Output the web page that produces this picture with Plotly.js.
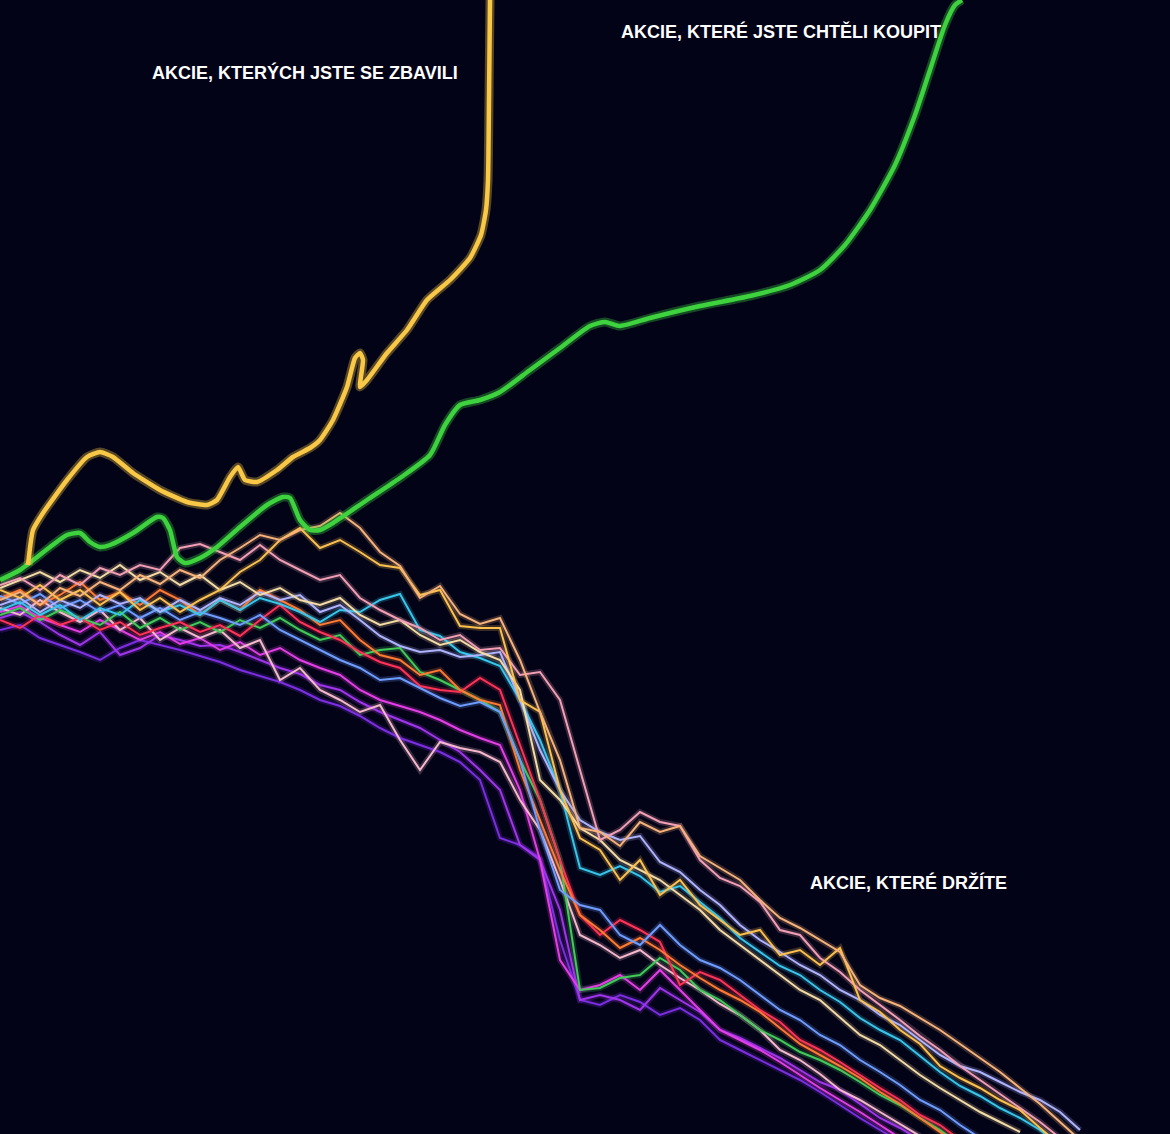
<!DOCTYPE html>
<html>
<head>
<meta charset="utf-8">
<script src="https://cdn.plot.ly/plotly-3.0.1.min.js"></script>
<style>html,body{margin:0;padding:0;background:#030318;}#chart{width:1170px;height:1134px;}</style>
</head>
<body>
<div id="chart"></div>
<script>
// Main curves (pixel-like coordinates)
const soldX = [28,33,43,67,87,100,113,133,160,187,207,217,230,238,245,257,277,293,310,320,333,347,355,360,363,360,367,387,407,427,450,470,481,486,488,489,490];
const soldY = [565,530,513,480,457,452,457,473,490,502,505,500,477,467,480,482,470,457,448,440,420,387,358,353,360,387,380,353,330,300,280,258,235,210,180,100,0];

const wantedX = [0,20,50,67,80,90,100,110,133,157,163,170,177,185,200,217,240,267,283,290,300,310,320,333,367,400,430,445,460,480,500,530,560,590,605,620,650,700,750,790,820,845,870,895,915,930,945,955,962];
const wantedY = [580,570,547,535,533,542,547,545,533,517,518,530,557,563,558,547,527,505,497,498,520,530,530,523,500,478,455,425,405,400,392,370,348,326,322,326,318,306,296,285,270,245,210,165,115,70,25,5,0];

// Shared x grid for the held stocks
const heldX = [0,20,40,60,80,100,120,140,160,180,200,220,240,260,280,300,320,340,360,380,400,420,440,460,480,500,520,540,560,580,600,620,640,660,680,700,720,740,760,780,800,820,840,860,880,900,920,940,960,980,1000,1020,1040,1060,1080];

const heldTan = [600,592,605,588,596,582,590,575,584,570,578,560,548,535,540,530,526,513,528,552,566,598,586,614,624,618,660,712,760,828,832,846,822,832,826,856,868,880,900,918,928,940,952,985,998,1006,1018,1030,1044,1058,1072,1088,1104,1122,1140];
const heldAmber = [590,598,585,600,590,605,592,610,598,612,600,590,572,560,540,528,548,540,552,565,568,595,590,626,628,628,700,712,790,838,850,880,860,895,880,905,920,935,930,955,950,965,948,1000,1012,1030,1044,1066,1078,1088,1100,1110,1128,1145,null];
const heldPink = [585,578,590,575,585,568,575,565,570,548,544,552,560,545,560,570,580,575,598,610,620,628,640,635,650,648,675,672,700,770,840,830,812,822,826,860,878,886,902,930,935,958,972,990,1005,1020,1036,1050,1066,1080,1094,1108,1122,1138,null];
const heldLavender = [605,598,612,600,608,595,604,598,612,600,610,598,605,592,600,595,612,605,620,636,646,652,650,657,655,652,700,750,790,820,832,840,836,862,872,890,905,925,940,952,965,975,990,1000,1015,1025,1040,1055,1066,1072,1082,1092,1100,1112,1130];
const heldCyan = [610,602,615,605,620,608,615,600,612,605,615,600,610,598,604,612,622,610,612,600,594,630,636,652,658,666,700,740,790,868,875,866,876,892,886,902,918,938,952,966,975,990,1002,1018,1030,1040,1056,1072,1086,1096,1108,1118,1130,1145,null];
const heldGreen = [615,608,620,610,618,625,612,628,618,630,622,632,620,628,618,630,640,635,655,650,648,672,680,690,700,712,760,800,860,990,988,978,975,958,970,990,1000,1015,1030,1040,1052,1060,1070,1082,1095,1105,1118,1130,1145,null,null,null,null,null,null];
const heldRed = [620,628,615,625,618,630,622,635,628,622,632,625,636,620,605,622,632,640,652,662,668,686,690,692,678,690,745,800,860,915,935,920,930,942,985,972,980,995,1010,1022,1040,1050,1062,1075,1088,1100,1115,1125,1140,null,null,null,null,null,null];
const heldOrange = [598,590,605,595,582,600,592,605,590,600,615,600,610,590,600,610,625,620,640,655,660,675,670,690,700,705,770,820,870,915,930,948,938,950,965,978,990,1000,1012,1028,1044,1055,1066,1078,1092,1104,1118,1132,1146,null,null,null,null,null,null];
const heldMagenta = [612,606,618,625,632,620,630,640,632,644,638,650,642,655,648,660,668,675,690,700,706,712,720,730,738,745,790,860,960,990,985,975,990,970,990,1010,1030,1040,1050,1062,1075,1088,1100,1112,1125,1138,null,null,null,null,null,null,null,null,null];
const heldPurple = [618,612,622,635,645,632,655,648,635,640,646,645,652,660,668,674,685,690,702,712,720,728,740,752,770,790,845,860,910,1000,995,1000,1010,988,1000,1012,1030,1038,1048,1058,1070,1082,1090,1104,1118,1128,1140,null,null,null,null,null,null,null,null];
const heldViolet = [630,625,638,645,652,660,648,640,645,650,656,662,670,676,682,690,700,706,716,728,738,745,752,762,780,838,845,858,940,1000,1005,995,1002,1015,1008,1020,1040,1050,1060,1070,1080,1092,1105,1118,1130,1142,null,null,null,null,null,null,null,null,null];
const heldRose = [608,615,600,612,622,610,630,618,640,628,638,630,648,640,680,668,690,700,712,705,740,770,742,748,752,762,800,830,880,935,945,958,950,965,978,990,1004,1015,1030,1050,1060,1074,1090,1100,1112,1124,1136,null,null,null,null,null,null,null,null];
const heldBlue = [596,604,594,608,600,612,605,618,608,620,612,618,625,615,630,640,650,660,668,680,678,688,698,706,702,712,760,830,890,905,910,935,945,925,945,960,968,980,995,1010,1020,1035,1045,1060,1072,1085,1100,1110,1125,1138,null,null,null,null,null];
const heldCream = [588,580,572,582,570,578,565,580,572,585,575,590,582,595,588,600,605,598,615,625,620,635,645,640,652,660,690,780,800,828,840,860,870,880,895,910,930,945,960,975,990,1000,1018,1035,1045,1060,1075,1088,1100,1112,1122,1132,null,null,null];

const labels = ["AKCIE, KTERÝCH JSTE SE ZBAVILI", "AKCIE, KTERÉ JSTE CHTĚLI KOUPIT", "AKCIE, KTERÉ DRŽÍTE"];
const labelX = [305, 781, 908];
const labelY = [72, 31, 882];

// styles
const heldSeries = [
  [heldViolet, '#7b2fe0'], [heldPurple, '#a035ec'], [heldMagenta, '#e43fe6'], [heldRose, '#f5b8cc'],
  [heldGreen, '#43c95a'], [heldRed, '#ff3358'], [heldOrange, '#ff7a33'], [heldBlue, '#6f9dff'],
  [heldCyan, '#38c6ea'], [heldLavender, '#b0b4ff'], [heldCream, '#f4dca6'], [heldPink, '#f29fb5'],
  [heldAmber, '#fbc04f'], [heldTan, '#f6b27a']
];

const traces = [];
heldSeries.forEach(([ys, c]) => {
  traces.push({x: heldX, y: ys, mode: 'lines', line: {color: c, width: 6}, opacity: 0.22, hoverinfo: 'skip'});
});
heldSeries.forEach(([ys, c]) => {
  traces.push({x: heldX, y: ys, mode: 'lines', line: {color: c, width: 2}, hoverinfo: 'skip'});
});
traces.push({x: wantedX, y: wantedY, mode: 'lines', line: {color: '#3cd03c', width: 9, shape: 'spline', smoothing: 0.6}, opacity: 0.35, hoverinfo: 'skip'});
traces.push({x: wantedX, y: wantedY, mode: 'lines', line: {color: '#3fd23f', width: 4.5, shape: 'spline', smoothing: 0.6}, hoverinfo: 'skip'});
traces.push({x: soldX, y: soldY, mode: 'lines', line: {color: '#f6c843', width: 9, shape: 'spline', smoothing: 0.5}, opacity: 0.35, hoverinfo: 'skip'});
traces.push({x: soldX, y: soldY, mode: 'lines', line: {color: '#f8c846', width: 4.5, shape: 'spline', smoothing: 0.5}, hoverinfo: 'skip'});

const annotations = labels.map((t, i) => ({
  x: labelX[i], y: labelY[i], xref: 'x', yref: 'y', text: '<b>' + t + '</b>', showarrow: false,
  xanchor: 'center', yanchor: 'middle',
  font: {family: 'Liberation Sans, Arial, sans-serif', size: 18, color: '#ffffff'}
}));

const layout = {
  width: 1170, height: 1134,
  margin: {l: 0, r: 0, t: 0, b: 0, pad: 0},
  paper_bgcolor: '#030318', plot_bgcolor: '#030318',
  showlegend: false,
  xaxis: {range: [0, 1170], visible: false, fixedrange: true},
  yaxis: {range: [1134, 0], visible: false, fixedrange: true},
  annotations: annotations
};

Plotly.newPlot('chart', traces, layout, {displayModeBar: false, staticPlot: true});
</script>
</body>
</html>
